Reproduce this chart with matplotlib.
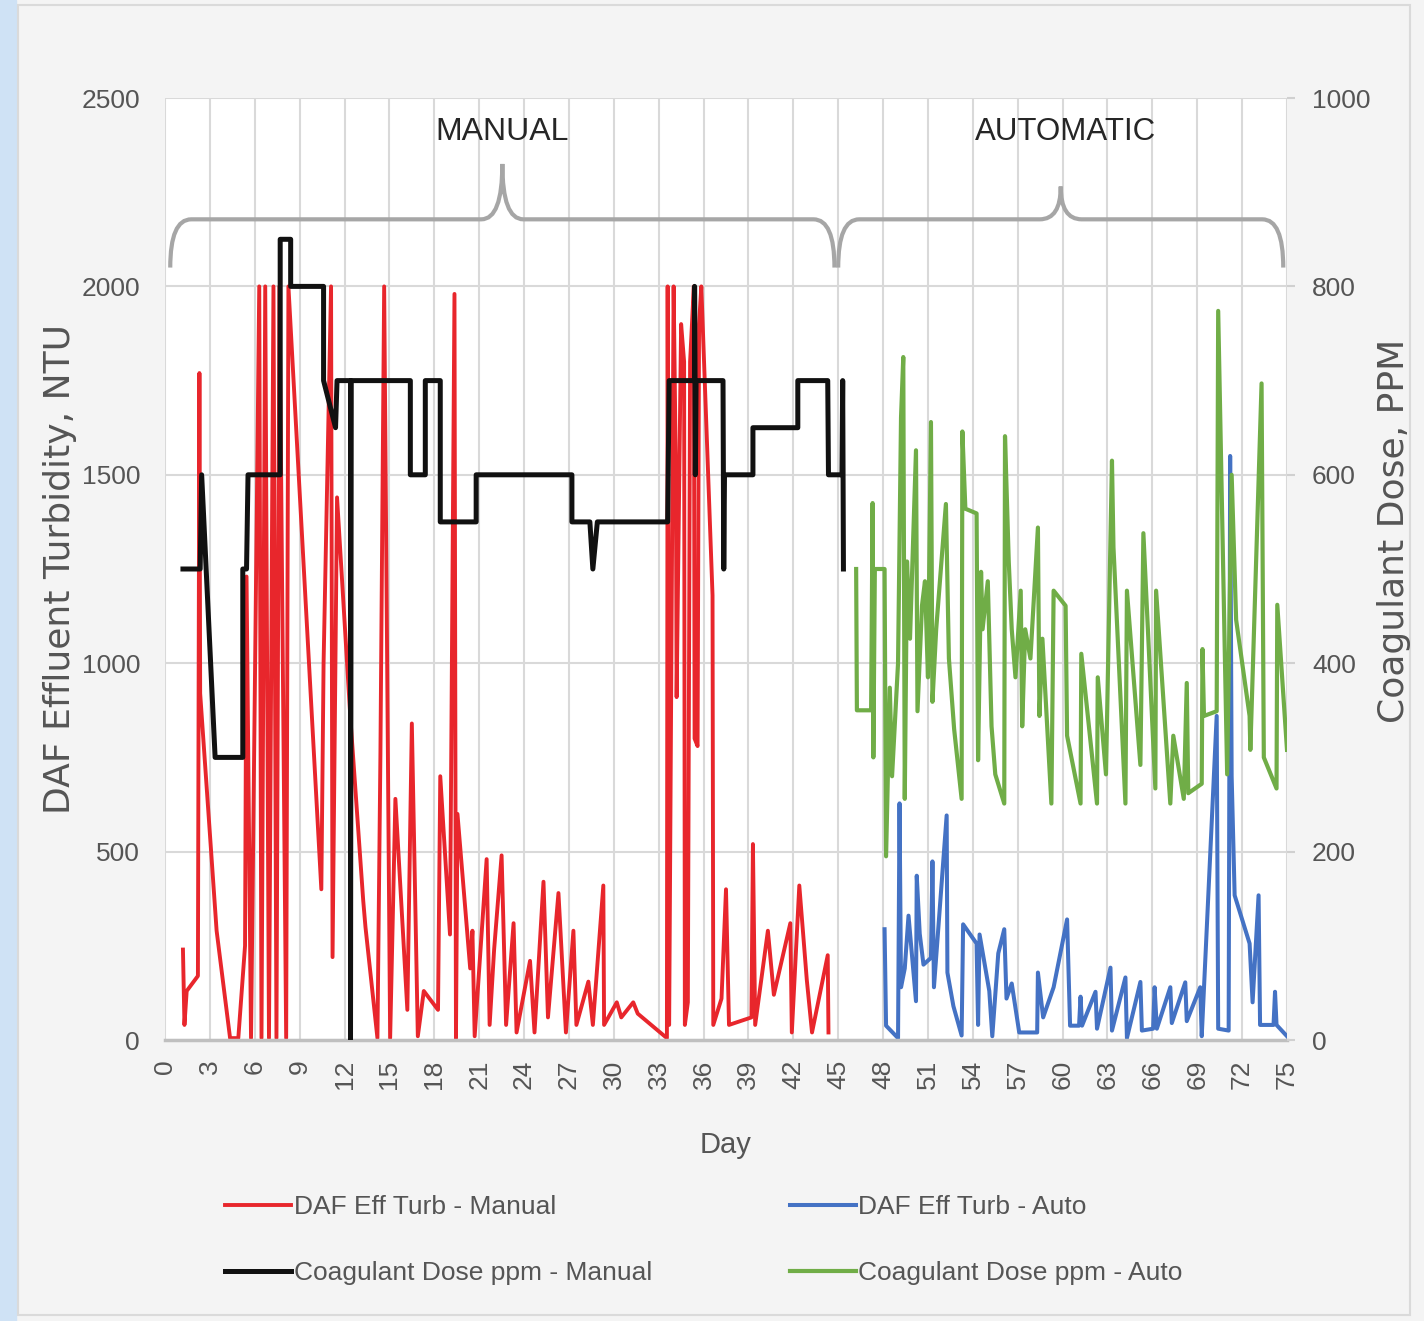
import matplotlib.pyplot as plt
from matplotlib.path import Path
from matplotlib.patches import PathPatch, Rectangle

# DAF effluent turbidity (NTU) - manual period
red_day = [1.2, 1.3, 1.45, 2.2, 2.3, 2.35, 3.45, 4.35, 4.9, 5.35, 5.45, 5.75, 6.3, 6.45, 6.7, 6.95,
           7.25, 7.45, 7.65, 8.1, 8.25, 10.45, 10.6, 11.1, 11.2, 11.5, 12.4, 13.25, 13.4, 14.2, 14.4,
           14.65, 15.05, 15.4, 16.2, 16.5, 16.9, 17.3, 18.25, 18.4, 19.05, 19.35, 19.45, 19.55,
           20.4, 20.55, 20.7, 21.5, 21.7, 22.0, 22.5, 22.8, 23.3, 23.5, 24.4, 24.7, 25.3, 25.6,
           26.3, 26.8, 27.3, 27.5, 28.3, 28.6, 29.3, 29.35, 30.2, 30.5, 31.3, 31.6, 33.55, 33.6,
           33.7, 34.0, 34.15, 34.2, 34.5, 34.7, 34.75, 34.95, 35.1, 35.35, 35.4, 35.6, 35.7, 35.85,
           36.6, 36.65, 37.2, 37.5, 37.7, 39.2, 39.3, 39.45, 40.3, 40.7, 41.8, 41.9, 42.4, 42.9,
           43.25, 44.3, 44.35]
red_turb = [240, 40, 130, 170, 1770, 920, 290, 5, 5, 250, 1230, 5, 2000, 5, 2000, 5,
            2000, 5, 2000, 5, 2000, 400, 1000, 2000, 220, 1440, 850, 370, 300, 5, 760,
            2000, 5, 640, 80, 840, 10, 130, 80, 700, 280, 1980, 5, 600,
            190, 290, 10, 480, 40, 240, 490, 40, 310, 20, 210, 20, 420, 60,
            390, 20, 290, 40, 155, 40, 410, 40, 100, 60, 100, 70, 5, 2000,
            40, 2000, 1500, 910, 1900, 1800, 40, 100, 1800, 2000, 800, 780, 1900, 2000,
            1180, 40, 110, 400, 40, 60, 520, 40, 290, 120, 310, 20, 410, 160,
            20, 225, 20]

# Coagulant dose (ppm) - manual period
black_day = [1.2, 2.35, 2.45, 3.35, 5.2, 5.2, 5.45, 5.55, 7.7, 7.7, 8.4, 8.4, 10.6, 10.6, 11.4,
             11.5, 12.4, 12.4, 12.45, 16.4, 16.4, 17.4, 17.4, 18.4, 18.4, 20.8, 20.8, 27.2, 27.2,
             28.4, 28.6, 28.9, 33.6, 33.7, 35.4, 35.4, 35.45, 35.5, 37.3, 37.35, 37.4, 39.3,
             39.3, 42.3, 42.3, 44.3, 44.35, 45.25, 45.3, 45.35]
black_ppm = [500, 500, 600, 300, 300, 500, 500, 600, 600, 850, 850, 800, 800, 700, 650,
             700, 700, 0, 700, 700, 600, 600, 700, 700, 550, 550, 600, 600, 550,
             550, 500, 550, 550, 700, 700, 800, 600, 700, 700, 500, 600, 600,
             650, 650, 700, 700, 600, 600, 700, 500]

# DAF effluent turbidity (NTU) - automatic period
blue_day = [48.1, 48.2, 49.0, 49.1, 49.2, 49.45, 49.7, 50.2, 50.25, 50.45, 50.7, 51.2, 51.3, 51.4,
            52.25, 52.3, 52.7, 53.25, 53.35, 54.25, 54.35, 54.45, 55.1, 55.3, 55.7, 56.1, 56.25,
            56.6, 57.1, 58.3, 58.35, 58.7, 59.4, 60.3, 60.5, 61.1, 61.2, 61.3, 62.2, 62.3, 63.2,
            63.3, 64.2, 64.3, 65.2, 65.3, 66.05, 66.15, 66.3, 67.2, 67.3, 68.2, 68.3, 69.2, 69.3,
            70.3, 70.4, 71.1, 71.2, 71.3, 71.5, 72.5, 72.7, 73.1, 73.2, 74.1, 74.2, 74.3, 75.0]
blue_turb = [294, 38, 5, 628, 140, 190, 330, 103, 436, 282, 200, 218, 474, 140,
             596, 179, 90, 12, 307, 256, 40, 280, 130, 10, 230, 294, 110,
             150, 20, 20, 179, 60, 140, 320, 38, 38, 115, 38, 128, 30, 192,
             25, 166, 5, 154, 25, 30, 140, 30, 140, 45, 153, 50, 140, 10,
             860, 30, 25, 1550, 700, 384, 256, 100, 384, 40, 40, 128, 40, 10]

# Coagulant dose (ppm) - automatic period
green_day = [46.2, 46.25, 47.2, 47.3, 47.35, 47.45, 48.1, 48.2, 48.45, 48.6, 49.0, 49.2, 49.35,
             49.45, 49.6, 49.8, 50.2, 50.3, 50.6, 50.8, 51.0, 51.2, 51.3, 51.55, 52.2, 52.4, 52.75,
             53.25, 53.3, 53.5, 54.25, 54.35, 54.55, 54.65, 55.0, 55.25, 55.5, 56.1, 56.15, 56.4,
             56.6, 56.85, 57.2, 57.3, 57.5, 57.85, 58.35, 58.45, 58.65, 59.25, 59.4, 60.2, 60.3,
             61.2, 61.25, 62.3, 62.35, 62.9, 63.3, 63.4, 64.2, 64.3, 65.2, 65.4, 66.2, 66.25, 67.2,
             67.4, 68.1, 68.3, 68.4, 69.3, 69.35, 69.45, 70.3, 70.4, 71.0, 71.3, 71.6, 72.5,
             72.55, 73.3, 73.45, 74.3, 74.35, 75.0]
green_ppm = [500, 350, 350, 570, 300, 500, 500, 195, 374, 280, 400, 661, 725,
             256, 508, 426, 626, 349, 461, 487, 385, 656, 359, 436, 569, 405, 330,
             256, 646, 564, 559, 297, 497, 436, 487, 333, 282, 251, 641, 508,
             436, 385, 477, 333, 436, 405, 544, 344, 426, 251, 477, 461, 323,
             251, 410, 251, 385, 282, 615, 523, 251, 477, 292, 538, 267, 477, 251,
             323, 256, 379, 262, 272, 415, 344, 349, 774, 282, 600, 446, 344,
             308, 697, 300, 267, 462, 308]

x_ticks = list(range(0, 76, 3))
left_ticks = [0, 500, 1000, 1500, 2000, 2500]
right_ticks = [0, 200, 400, 600, 800, 1000]

W, H = 1424, 1321
fig = plt.figure(figsize=(W / 100, H / 100), dpi=100)
fig.patch.set_facecolor('#f4f4f4')
fig.patches.append(Rectangle((0, 0), 16 / W, 1, transform=fig.transFigure,
                             color='#cfe2f5', zorder=-2))
fig.patches.append(Rectangle((18 / W, 6 / H), (1410 - 18) / W, (1316 - 6) / H,
                             transform=fig.transFigure, fill=False,
                             edgecolor='#dadada', lw=1.5, zorder=-1))

ax = fig.add_axes([165 / W, 1 - 1040 / H, (1287 - 165) / W, (1040 - 98) / H])
ax.set_facecolor('white')
ax2 = ax.twinx()

gray = '#555555'
tick_font = {'family': 'Liberation Sans', 'size': 19}

ax.plot(red_day, red_turb, color='#e8262c', lw=2.8, label='DAF Eff Turb - Manual')
ax.plot(blue_day, blue_turb, color='#4472c4', lw=2.9, label='DAF Eff Turb - Auto')
ax2.plot(black_day, black_ppm, color='#111111', lw=3.6, label='Coagulant Dose ppm - Manual')
ax2.plot(green_day, green_ppm, color='#70ad47', lw=3.0, label='Coagulant Dose ppm - Auto')

ax.set_xlim(0, 75)
ax.set_ylim(0, 2500)
ax2.set_ylim(0, 1000)
ax.set_xticks(x_ticks)
ax.set_xticklabels([str(t) for t in x_ticks], rotation=90, color=gray, **tick_font)
ax.set_yticks(left_ticks)
ax.set_yticklabels([str(t) for t in left_ticks], color=gray, **tick_font)
ax2.set_yticks(right_ticks)
ax2.set_yticklabels([str(t) for t in right_ticks], color=gray, **tick_font)
ax.grid(True, color='#d9d9d9', lw=1.5)
ax.set_axisbelow(True)
for a in (ax, ax2):
    for s in a.spines.values():
        s.set_visible(False)
ax.spines['bottom'].set_visible(True)
ax.spines['bottom'].set_color('#bfbfbf')
ax.spines['bottom'].set_linewidth(2.5)
ax.tick_params(axis='x', length=0, pad=14)
ax.tick_params(axis='y', length=0, pad=18)
ax2.tick_params(axis='y', length=6, color='#d0d0d0', width=1.5, pad=12)

ax.set_xlabel('Day', color=gray, fontsize=21, family='Liberation Sans', labelpad=30)
ax.set_ylabel('DAF Effluent Turbidity, NTU', color=gray, fontsize=26)
ax.yaxis.set_label_coords(-0.078, 0.5)
ax2.set_ylabel('Coagulant Dose, PPM', color=gray, fontsize=26)
ax2.yaxis.set_label_coords(1.080, 0.54)


def brace(a, x0, x1, y_end, y_bar, y_tip, r):
    xm = (x0 + x1) / 2
    verts = [(x0, y_end), (x0, y_bar), (x0 + r, y_bar),
             (xm - r, y_bar), (xm, y_bar), (xm, y_tip),
             (xm, y_bar), (xm + r, y_bar),
             (x1 - r, y_bar), (x1, y_bar), (x1, y_end)]
    codes = [Path.MOVETO, Path.CURVE3, Path.CURVE3,
             Path.LINETO, Path.CURVE3, Path.CURVE3,
             Path.CURVE3, Path.CURVE3,
             Path.LINETO, Path.CURVE3, Path.CURVE3]
    a.add_patch(PathPatch(Path(verts, codes), fill=False, edgecolor='#a6a6a6', lw=3))


brace(ax, 0.35, 44.75, 2050, 2178, 2325, 1.4)
brace(ax, 45.0, 74.75, 2050, 2178, 2265, 1.4)
ax.text(22.55, 2410, 'MANUAL', ha='center', va='center', fontsize=23,
        family='Liberation Sans', color='#262626')
ax.text(60.2, 2410, 'AUTOMATIC', ha='center', va='center', fontsize=22.5,
        family='Liberation Sans', color='#262626')

h1, l1 = ax.get_legend_handles_labels()
h2, l2 = ax2.get_legend_handles_labels()
handles = [h1[0], h2[0], h1[1], h2[1]]
labels = [l1[0], l2[0], l1[1], l2[1]]
fig.legend(handles, labels, ncol=2, loc='center', bbox_to_anchor=(704 / W, 1 - 1240 / H),
           frameon=False, prop={'family': 'Liberation Sans', 'size': 19},
           labelcolor=gray, handlelength=2.5, handletextpad=0.1,
           columnspacing=5.2, labelspacing=1.6)

fig.savefig('out.png', dpi=100, facecolor=fig.get_facecolor())
